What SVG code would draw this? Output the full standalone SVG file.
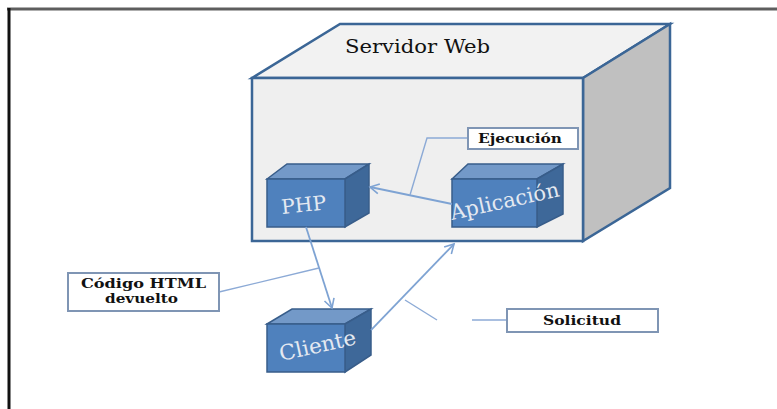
<svg xmlns="http://www.w3.org/2000/svg" width="777" height="409" viewBox="0 0 777 409">
  <style>
    .edge { stroke: #3b6696; stroke-width: 2.5; stroke-linejoin: miter; }
    .cube { stroke: #385d8a; stroke-width: 1.5; stroke-linejoin: miter; }
    .front { fill: #4f81bd; }
    .top { fill: #7399c8; }
    .side { fill: #3e6899; }
    .serif { font-family: DejaVu Serif, serif; }
    .cubelabel { fill: #e4e9f1; }
    .note { fill: #ffffff; stroke: #7f95b4; stroke-width: 2; }
    .notetext { font-weight: bold; fill: #111111; }
    .arrow { fill: none; stroke: #7ea3d3; stroke-width: 1.8; }
    .callout { fill: none; stroke: #8caad6; stroke-width: 1.4; }
  </style>
  <defs>
    <marker id="open" markerWidth="12" markerHeight="12" refX="10" refY="6" orient="auto" markerUnits="userSpaceOnUse">
      <path d="M1,1 L10,6 L1,11" fill="none" stroke="#7ea3d3" stroke-width="1.6"/>
    </marker>
  </defs>

  <rect width="777" height="409" fill="#ffffff"/>

  <!-- outer frame -->
  <g id="frame">
    <line x1="7" y1="9" x2="777" y2="9" stroke="#5e5e5e" stroke-width="3"/>
    <line x1="9" y1="8" x2="9" y2="409" stroke="#111111" stroke-width="3"/>
  </g>

  <!-- web server box -->
  <g id="servidor">
    <polygon class="edge" points="252,78 340,24 670,24 583,78" fill="#f2f2f2"/>
    <polygon class="edge" points="583,78 670,24 670,188 583,241" fill="#c0c0c0"/>
    <rect class="edge" x="252" y="78" width="331" height="163" fill="#efefef"/>
    <text class="serif" x="345" y="53" font-size="18" fill="#111111" textLength="145" lengthAdjust="spacingAndGlyphs">Servidor Web</text>
  </g>

  <!-- PHP component -->
  <g id="php">
    <polygon class="cube top" points="267,179 287,164 369,164 345,179"/>
    <polygon class="cube side" points="345,179 369,164 369,213 345,227"/>
    <rect class="cube front" x="267" y="179" width="78" height="48"/>
    <text class="serif cubelabel" x="282" y="214" font-size="20" textLength="45" lengthAdjust="spacingAndGlyphs" transform="rotate(-6 282 214)">PHP</text>
  </g>

  <!-- application component -->
  <g id="aplicacion">
    <polygon class="cube top" points="452,179 468,164 563,164 537,179"/>
    <polygon class="cube side" points="537,179 563,164 563,214 537,227"/>
    <rect class="cube front" x="452" y="179" width="85" height="48"/>
    <text class="serif cubelabel" x="452" y="220" font-size="21" textLength="111" lengthAdjust="spacingAndGlyphs" transform="rotate(-12.5 452 220)">Aplicación</text>
  </g>

  <!-- client component -->
  <g id="cliente">
    <polygon class="cube top" points="267,324 292,309 371,309 345,324"/>
    <polygon class="cube side" points="345,324 371,309 371,355 345,372"/>
    <rect class="cube front" x="267" y="324" width="78" height="48"/>
    <text class="serif cubelabel" x="281" y="361" font-size="21" textLength="78" lengthAdjust="spacingAndGlyphs" transform="rotate(-12.5 281 361)">Cliente</text>
  </g>

  <!-- connectors -->
  <g id="connectors">
    <line class="arrow" x1="452" y1="204" x2="370" y2="187" marker-end="url(#open)"/>
    <line class="arrow" x1="306" y1="227" x2="332" y2="308" marker-end="url(#open)"/>
    <line class="arrow" x1="371" y1="330" x2="454" y2="244" marker-end="url(#open)"/>
    <polyline class="callout" points="468,138 427,138 410,195"/>
    <line class="callout" x1="219" y1="292" x2="319" y2="268"/>
    <line class="callout" x1="405" y1="300" x2="437" y2="320"/>
    <line class="callout" x1="472" y1="320" x2="507" y2="320"/>
  </g>

  <!-- note labels -->
  <g id="ejecucion">
    <rect class="note" x="468" y="128" width="110" height="21" stroke-width="1.5" fill="#f8f8f8"/>
    <text class="serif notetext" x="478" y="143" font-size="13" textLength="84" lengthAdjust="spacingAndGlyphs">Ejecución</text>
  </g>
  <g id="codigo">
    <rect class="note" x="68" y="273" width="151" height="38"/>
    <text class="serif notetext" x="81" y="288" font-size="13" textLength="125" lengthAdjust="spacingAndGlyphs">Código HTML</text>
    <text class="serif notetext" x="105" y="303" font-size="13" textLength="73" lengthAdjust="spacingAndGlyphs">devuelto</text>
  </g>
  <g id="solicitud">
    <rect class="note" x="507" y="309" width="151" height="23"/>
    <text class="serif notetext" x="543" y="325" font-size="13" textLength="78" lengthAdjust="spacingAndGlyphs">Solicitud</text>
  </g>
</svg>
